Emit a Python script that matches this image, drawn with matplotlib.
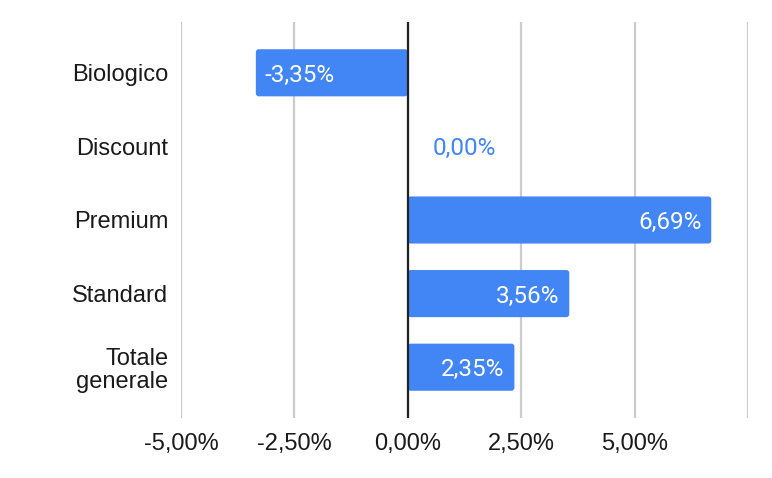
import matplotlib
matplotlib.use("Agg")
import matplotlib.pyplot as plt
from matplotlib.ticker import FixedLocator
from matplotlib.patches import FancyBboxPatch

categories = ["Biologico", "Discount", "Premium", "Standard", "Totale\ngenerale"]
values = [-3.35, 0.00, 6.69, 3.56, 2.35]
xticks = [-5.0, -2.5, 0.0, 2.5, 5.0, 7.5]
xtick_labels = ["-5,00%", "-2,50%", "0,00%", "2,50%", "5,00%", ""]

BLUE = "#4285F4"

def fmt(v):
    return f"{v:.2f}".replace(".", ",") + "%"

fig = plt.figure(figsize=(7.72, 4.78), dpi=100)
ax = fig.add_axes([181/772, 1-418/478, (748-181)/772, (418-22)/478])

y = list(range(len(categories)))
bars = ax.barh(y, values, height=0.64, color=BLUE, zorder=3)

ax.set_xlim(-5.0, 7.5)
ax.set_ylim(len(categories) - 1 + 0.69, -0.69)

# replace bars with slightly rounded rectangles
px_x = (748 - 181) / 12.5
px_y = (418 - 22) / (len(categories) - 1 + 1.38)
for b in bars:
    x0, y0, w, h = b.get_x(), b.get_y(), b.get_width(), b.get_height()
    if w == 0:
        b.remove()
        continue
    xs, ws = (x0, w) if w > 0 else (x0 + w, -w)
    r = 3 / px_x
    p = FancyBboxPatch((xs, y0), ws, h,
                       boxstyle=f"round,pad=0,rounding_size={r}",
                       mutation_aspect=px_x / px_y,
                       facecolor=BLUE, edgecolor="none", zorder=3)
    b.remove()
    ax.add_patch(p)

ax.xaxis.set_major_locator(FixedLocator(xticks))
ax.set_xticklabels(xtick_labels, fontfamily="Liberation Sans", fontsize=17, color="#1a1a1a")
ax.set_yticks(y)
ax.set_yticklabels(categories, fontfamily="Liberation Sans", fontsize=17, color="#1a1a1a",
                   linespacing=1.06)
ax.tick_params(axis="both", length=0)
ax.tick_params(axis="y", pad=9)
ax.tick_params(axis="x", pad=11)

ax.grid(axis="x", color="#cccccc", linewidth=1.6, zorder=0)
ax.axvline(0, color="#222222", linewidth=1.6, zorder=4)
for s in ax.spines.values():
    s.set_visible(False)

for yi, v in zip(y, values):
    if v > 0:
        ax.annotate(fmt(v), (v, yi), xytext=(-7, 0), textcoords="offset points",
                    ha="right", va="center_baseline", color="white", fontfamily="Roboto",
                    fontsize=17.5, zorder=5)
    elif v < 0:
        ax.annotate(fmt(v), (v, yi), xytext=(6, 0), textcoords="offset points",
                    ha="left", va="center_baseline", color="white", fontfamily="Roboto",
                    fontsize=17.5, zorder=5)
    else:
        ax.annotate(fmt(v), (v, yi), xytext=(18, 0), textcoords="offset points",
                    ha="left", va="center_baseline", color=BLUE, fontfamily="Roboto",
                    fontsize=17.5, zorder=5)

fig.savefig("out.png", dpi=100)
